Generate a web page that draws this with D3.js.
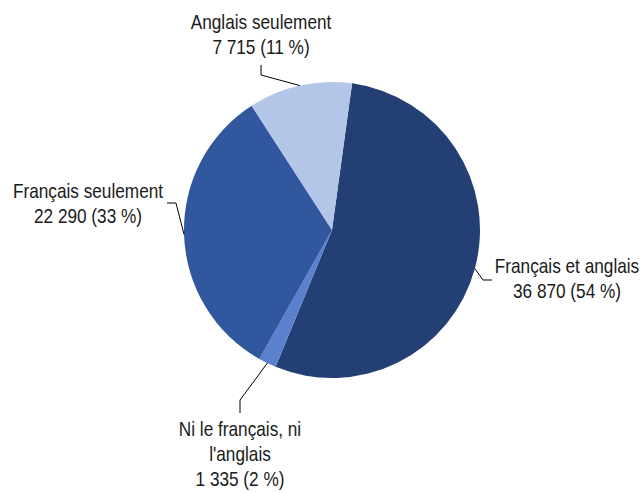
<!DOCTYPE html>
<html>
<head>
<meta charset="utf-8">
<script src="https://cdn.jsdelivr.net/npm/d3@7"></script>
<style>
  body { margin: 0; background: #fff; }
  svg text { font-family: "Liberation Sans", Arial, sans-serif; font-size: 21px; fill: #1a1a1a; }
</style>
</head>
<body>
<svg id="chart" width="642" height="493"></svg>
<script>
// data
var categories = ["Français et anglais", "Ni le français, ni l'anglais", "Français seulement", "Anglais seulement"];
var values = [36870, 1335, 22290, 7715];
var percents = [54, 2, 33, 11];
var colors = ["#243f73", "#5b80cd", "#31579f", "#b4c6e7"];

// label text lines per slice
var labelLines = [
  ["Français et anglais", "36 870 (54 %)"],
  ["Ni le français, ni", "l'anglais", "1 335 (2 %)"],
  ["Français seulement", "22 290 (33 %)"],
  ["Anglais seulement", "7 715 (11 %)"]
];

var width = 642, height = 493;
var cx = 332, cy = 230, radius = 148;
var startDeg = 7.8;
var narrow = 0.82; // no narrow font installed, squeeze the regular one

var svg = d3.select("#chart");

// label layout: text anchor point, elbow and leader end
var labelLayout = [
  { x: 567, y: 273, elbow: [483, 280], end: [492, 280] },
  { x: 240, y: 436, elbow: [240, 400], end: [240, 413] },
  { x: 88, y: 198, elbow: [176, 203], end: [167, 203] },
  { x: 261, y: 29, elbow: [261, 75], end: [261, 65] }
];

var pie = d3.pie().sort(null)
  .startAngle(startDeg * Math.PI / 180)
  .endAngle(startDeg * Math.PI / 180 + 2 * Math.PI);

var arcs = pie(values);

var arc = d3.arc().innerRadius(0).outerRadius(radius);

var g = svg.append("g").attr("transform", `translate(${cx},${cy})`);

g.selectAll("path.slice")
  .data(arcs)
  .enter().append("path")
  .attr("class", "slice")
  .attr("d", arc)
  .attr("fill", function(d, i) { return colors[i]; });

// leader lines, starting at the edge of each slice's middle
arcs.forEach(function(d, i) {
  var mid = (d.startAngle + d.endAngle) / 2;
  var px = cx + radius * Math.sin(mid);
  var py = cy - radius * Math.cos(mid);
  var L = labelLayout[i];
  svg.append("polyline")
    .attr("points", [[px, py], L.elbow, L.end].map(function(p) { return p.join(","); }).join(" "))
    .attr("fill", "none")
    .attr("stroke", "#000")
    .attr("stroke-width", 1);

  var t = svg.append("text")
    .attr("text-anchor", "middle")
    .attr("transform", `translate(${L.x},${L.y}) scale(${narrow},1)`);
  labelLines[i].forEach(function(line, j) {
    t.append("tspan")
      .attr("x", 0)
      .attr("dy", j === 0 ? 0 : 25)
      .text(line);
  });
});
</script>
</body>
</html>
